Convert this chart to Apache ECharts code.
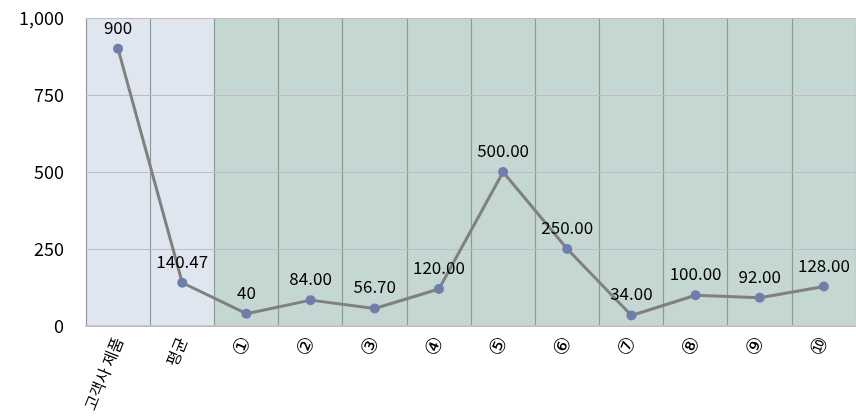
<!DOCTYPE html>
<html>
<head>
<meta charset="utf-8">
<script src="https://cdn.jsdelivr.net/npm/echarts@6/dist/echarts.min.js"></script>
<style>
  html, body { margin: 0; padding: 0; background: #ffffff; }
  #chart { width: 856px; height: 417px; }
</style>
</head>
<body>
<div id="chart"></div>
<script>
// Product names along the x axis
const categories = ['고객사 제품', '평균', '①', '②', '③', '④', '⑤', '⑥', '⑦', '⑧', '⑨', '⑩'];
// Values as printed above each point
const valueLabels = ['900', '140.47', '40', '84.00', '56.70', '120.00', '500.00', '250.00', '34.00', '100.00', '92.00', '128.00'];
const values = valueLabels.map(Number);
// Y axis ticks
const yTicks = [0, 250, 500, 750, 1000];

// Column shading: reference columns (customer product, average) vs. compared items
const bandColors = categories.map((c, i) => (i < 2 ? '#dfe6f0' : '#c4d7d2'));

const FONT = '"Noto Sans CJK KR", "Noto Sans", sans-serif';

const chart = echarts.init(document.getElementById('chart'));
chart.setOption({
  animation: false,
  grid: { left: 86, right: 0, top: 18, bottom: 91 },
  xAxis: {
    type: 'category',
    data: categories,
    boundaryGap: true,
    z: 0,
    axisLine: { show: true, lineStyle: { color: '#c6c6c6', width: 2 } },
    axisTick: { show: false },
    axisLabel: {
      rotate: 68,
      margin: 12,
      color: '#000000',
      fontSize: 16,
      fontFamily: FONT,
      // circled item numbers are drawn a little larger than the Korean names
      formatter: v => (/^[\u2460-\u2473]$/.test(v) ? '{c|' + v + '}' : v),
      rich: {
        c: { fontSize: 21, fontFamily: '"DejaVu Sans", sans-serif', color: '#000000' }
      }
    },
    splitLine: { show: true, lineStyle: { color: '#8c9995', width: 1.2 } },
    splitArea: { show: true, areaStyle: { color: bandColors } }
  },
  yAxis: {
    type: 'value',
    min: yTicks[0],
    max: yTicks[yTicks.length - 1],
    interval: 250,
    z: 1,
    axisLine: { show: false },
    axisTick: { show: false },
    axisLabel: {
      margin: 22,
      color: '#000000',
      fontSize: 18,
      fontFamily: FONT,
      formatter: v => v.toLocaleString('en-US')
    },
    splitLine: { show: true, lineStyle: { color: '#c3b9c2', width: 1 } }
  },
  series: [{
    type: 'line',
    data: values,
    symbol: 'circle',
    symbolSize: 10,
    itemStyle: { color: '#6d7fa8' },
    lineStyle: { color: '#808080', width: 3 },
    label: {
      show: true,
      position: 'top',
      distance: 8,
      color: '#000000',
      fontSize: 17,
      fontFamily: FONT,
      formatter: p => valueLabels[p.dataIndex]
    },
    z: 5
  }]
});
</script>
</body>
</html>
